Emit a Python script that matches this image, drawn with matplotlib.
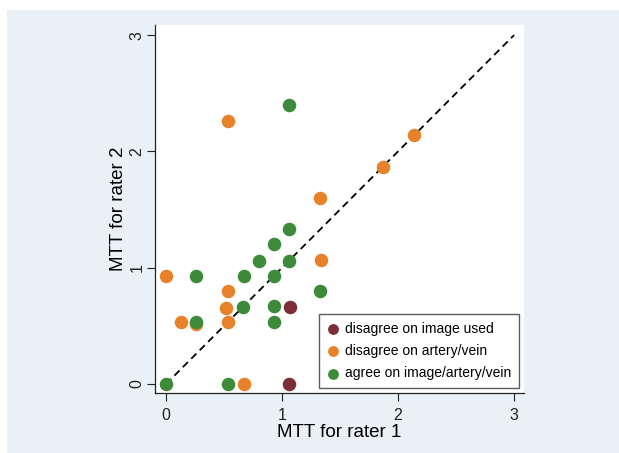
import matplotlib
matplotlib.use("Agg")
import matplotlib.pyplot as plt
from matplotlib.patches import Rectangle

plt.rcParams['font.family'] = ['Liberation Sans', 'DejaVu Sans']

# Data
img_x = [1.07, 1.06]
img_y = [0.66, 0.00]

av_x = [0.53, 2.14, 1.87, 1.33, 1.34, 0.00, 0.53, 0.52, 0.13, 0.26, 0.53, 0.67]
av_y = [2.26, 2.14, 1.87, 1.60, 1.07, 0.93, 0.80, 0.65, 0.53, 0.52, 0.53, 0.00]

agree_x = [0.00, 0.53, 1.06, 1.06, 0.93, 0.80, 1.06, 0.26, 0.67, 0.93, 1.33, 0.66, 0.93, 0.26, 0.93]
agree_y = [0.00, 0.00, 2.40, 1.33, 1.20, 1.06, 1.06, 0.93, 0.93, 0.93, 0.80, 0.66, 0.67, 0.53, 0.53]

labels = ["disagree on image used", "disagree on artery/vein", "agree on image/artery/vein"]
colors = ["#7d2e38", "#e8822a", "#3d8a3a"]
ticks = [0, 1, 2, 3]

fig = plt.figure(figsize=(6.19, 4.53), dpi=100)
fig.patch.set_facecolor("white")
bg = Rectangle((7/619, 0), 1 - 7/619, (453 - 9.5)/453,
               transform=fig.transFigure, facecolor="#eaf1f6",
               edgecolor="none", zorder=-10)
fig.add_artist(bg)

ax = fig.add_axes([155/619, (453-393)/453, (524-155)/619, (393-25)/453])
ax.set_zorder(1)
ax.set_facecolor("white")

s = 95
ax.plot([0, 3], [0, 3], linestyle=(0, (4, 2.6)), color="black", lw=1.3, zorder=1)
ax.scatter(img_x, img_y, s=s, color=colors[0], label=labels[0], zorder=2, linewidths=0)
ax.scatter(av_x, av_y, s=s, color=colors[1], label=labels[1], zorder=3, linewidths=0)
ax.scatter(agree_x, agree_y, s=s, color=colors[2], label=labels[2], zorder=4, linewidths=0)

ax.set_xlim(-0.095, 3.086)
ax.set_ylim(-0.077, 3.087)
ax.set_xticks(ticks)
ax.set_yticks(ticks)
ax.set_xticklabels([str(t) for t in ticks], fontsize=11.5)
ax.set_yticklabels([str(t) for t in ticks], fontsize=11.5, rotation=90, va="center")
ax.tick_params(direction="out", length=5.5, width=0.8, colors="#222222")
ax.tick_params(axis="x", pad=5)
ax.tick_params(axis="y", pad=2)
for sp in ["top", "right"]:
    ax.spines[sp].set_visible(False)
for sp in ["left", "bottom"]:
    ax.spines[sp].set_linewidth(0.9)
    ax.spines[sp].set_color("#222222")

ax.set_xlabel("MTT for rater 1", fontsize=13.5, labelpad=1)
ax.set_ylabel("MTT for rater 2", fontsize=13.5, labelpad=2)

leg = ax.legend(loc="lower right", fontsize=10, frameon=True, fancybox=False,
                edgecolor="#333333", handletextpad=0.35, borderpad=0.55,
                labelspacing=0.6, handlelength=1.0, markerscale=0.8,
                borderaxespad=0, bbox_to_anchor=(1 - 5/369, 5/368))
leg.get_frame().set_linewidth(1.0)

fig.savefig("out.png", dpi=100)
